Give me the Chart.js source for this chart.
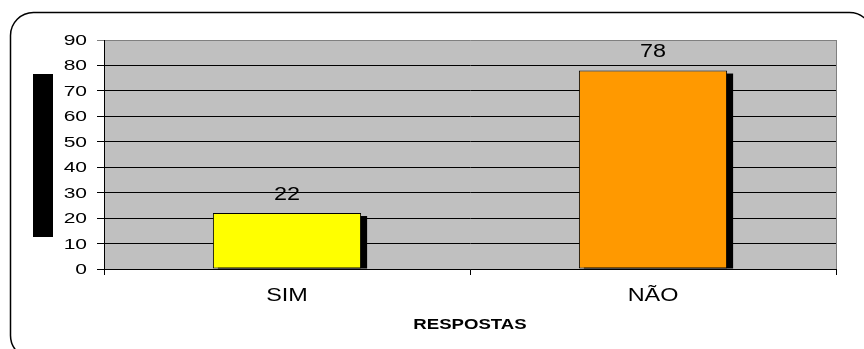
<!DOCTYPE html>
<html>
<head>
<meta charset="utf-8">
<script src="https://cdn.jsdelivr.net/npm/chart.js@4/dist/chart.umd.min.js"></script>
<style>
  html, body { margin: 0; padding: 0; background: #fff; }
  canvas { display: block; }
</style>
</head>
<body>
<canvas id="c" width="864" height="349"></canvas>
<script>
// ---- data ----
const categories = ['SIM', 'NÃO'];
const values = [22, 78];
const barColors = ['#FFFF00', '#FF9900'];
const xAxisTitle = 'RESPOSTAS';
const yMin = 0;
const yMax = 90;
const yStep = 10;

function stretchedText(ctx, text, x, y, sx, align, font) {
  ctx.save();
  ctx.translate(x, y);
  ctx.scale(sx, 1);
  ctx.font = font;
  ctx.textAlign = align;
  ctx.textBaseline = 'alphabetic';
  ctx.fillStyle = '#000';
  ctx.fillText(text, 0, 0);
  ctx.restore();
}

function roundRectPath(ctx, x, y, w, h, r) {
  ctx.beginPath();
  ctx.moveTo(x + r, y);
  ctx.lineTo(x + w - r, y);
  ctx.arcTo(x + w, y, x + w, y + r, r);
  ctx.lineTo(x + w, y + h - r);
  ctx.arcTo(x + w, y + h, x + w - r, y + h, r);
  ctx.lineTo(x + r, y + h);
  ctx.arcTo(x, y + h, x, y + h - r, r);
  ctx.lineTo(x, y + r);
  ctx.arcTo(x, y, x + r, y, r);
  ctx.closePath();
}

const decor = {
  id: 'decor',
  beforeDraw(chart) {
    const { ctx, chartArea: a } = chart;
    ctx.save();
    ctx.fillStyle = '#fff';
    ctx.fillRect(0, 0, chart.width, chart.height);
    roundRectPath(ctx, 10.5, 12.5, 862, 346, 23);
    ctx.lineWidth = 1.5;
    ctx.strokeStyle = '#000';
    ctx.stroke();
    // black block left of the axis
    ctx.fillStyle = '#000';
    ctx.fillRect(33, 74, 20, 163);
    // plot area background
    ctx.fillStyle = '#C0C0C0';
    ctx.fillRect(a.left, a.top, a.right - a.left, a.bottom - a.top);
    ctx.restore();
  },
  beforeDatasetsDraw(chart) {
    const { ctx } = chart;
    const meta = chart.getDatasetMeta(0);
    ctx.save();
    ctx.fillStyle = '#000';
    meta.data.forEach(bar => {
      const w = bar.width;
      const left = bar.x - w / 2 + 5;
      const top = bar.y + 3;
      ctx.fillRect(left, top, w + 1, bar.base - top);
    });
    ctx.restore();
  },
  afterDraw(chart) {
    const { ctx, chartArea: a, scales } = chart;
    ctx.save();
    // right border of plot area
    ctx.strokeStyle = '#808080';
    ctx.lineWidth = 1;
    ctx.beginPath();
    ctx.moveTo(Math.round(a.right) + 0.5, a.top);
    ctx.lineTo(Math.round(a.right) + 0.5, a.bottom);
    ctx.stroke();
    ctx.restore();

    // y tick labels
    const ys = scales.y;
    ys.ticks.forEach((t, i) => {
      const py = ys.getPixelForTick(i);
      stretchedText(ctx, String(t.label), a.left - 17, py + 5, 1.5, 'right', '14px "Liberation Sans", Arial, sans-serif');
    });
    // x tick labels
    const xs = scales.x;
    categories.forEach((c, i) => {
      const px = xs.getPixelForTick(i);
      stretchedText(ctx, c, px, a.bottom + 31.5, 1.3, 'center', '18px "Liberation Sans", Arial, sans-serif');
    });
    // value labels
    const meta = chart.getDatasetMeta(0);
    meta.data.forEach((bar, i) => {
      stretchedText(ctx, String(values[i]), bar.x, bar.y - 13.5, 1.3, 'center', '18px "Liberation Sans", Arial, sans-serif');
    });
    // axis title
    stretchedText(ctx, xAxisTitle, (a.left + a.right) / 2, a.bottom + 60, 1.24, 'center', 'bold 15px "Liberation Sans", Arial, sans-serif');
  }
};

new Chart(document.getElementById('c').getContext('2d'), {
  type: 'bar',
  data: {
    labels: categories,
    datasets: [{
      data: values,
      backgroundColor: barColors,
      borderColor: '#000',
      borderWidth: 1,
      borderSkipped: false,
      barPercentage: 0.405,
      categoryPercentage: 1
    }]
  },
  options: {
    responsive: false,
    animation: false,
    devicePixelRatio: 1,
    layout: { padding: { left: 0, top: 40, right: 28, bottom: 0 } },
    plugins: {
      legend: { display: false },
      tooltip: { enabled: false },
      title: { display: false }
    },
    scales: {
      x: {
        grid: { display: true, drawOnChartArea: false, drawTicks: true, tickLength: 6, color: '#000', offset: true },
        border: { display: true, color: '#000', width: 1 },
        ticks: { display: false },
        afterFit: s => { s.height = 80; }
      },
      y: {
        min: yMin,
        max: yMax,
        ticks: { stepSize: yStep, display: false },
        grid: {
          color: c => (c.tick && c.tick.value === yMax) ? '#808080' : '#000',
          tickLength: 7,
          drawTicks: true
        },
        border: { display: true, color: '#000', width: 1 },
        afterFit: s => { s.width = 104; }
      }
    }
  },
  plugins: [decor]
});
</script>
</body>
</html>
